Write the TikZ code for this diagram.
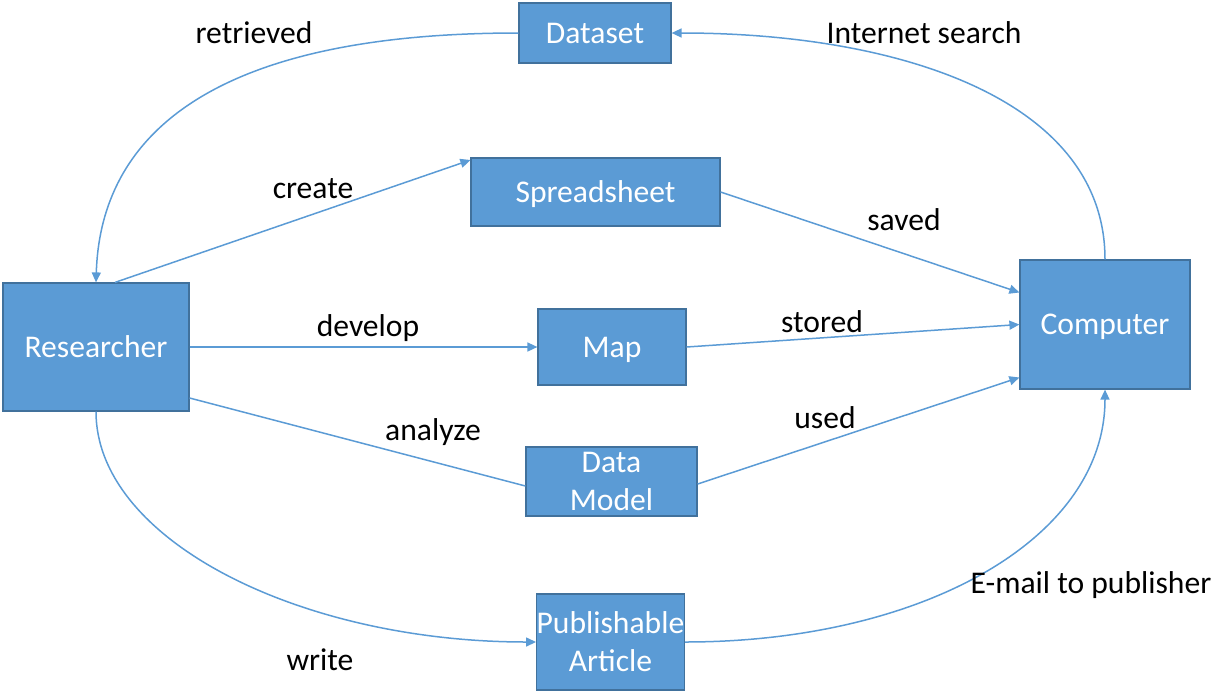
\documentclass[tikz,border=0pt]{standalone}
\usepackage{fontspec}
\setmainfont{Carlito}
\usetikzlibrary{arrows.meta}
\definecolor{boxblue}{HTML}{5B9BD5}
\definecolor{boxedge}{HTML}{41719C}
\definecolor{linkblue}{HTML}{5B9BD5}
\begin{document}
\begin{tikzpicture}[x=0.5pt,y=-0.5pt,
  every node/.style={font=\fontsize{15.8}{19}\selectfont},
  entity/.style={draw=boxedge,line width=0.6pt,fill=boxblue,text=white,
    align=center,inner sep=0pt},
  nodepth/.style={text depth=0pt},
  link/.style={draw=linkblue,line width=0.75pt},
  arrowed/.style={link,-{Triangle[length=5pt,width=4.5pt]}},
  lbl/.style={text=black,inner sep=0pt,text height=1.55ex,text depth=0.35ex}]
\useasboundingbox (0,0) rectangle (1216,692);

% boxes
\node[entity,minimum width=76pt,minimum height=30pt] (dataset) at (595,33) {Dataset};
\node[entity,nodepth,minimum width=124.5pt,minimum height=34pt] (sheet) at (595.5,192) {Spreadsheet};
\node[entity,minimum width=93pt,minimum height=64pt] (res) at (96,347) {Researcher};
\node[entity,nodepth,minimum width=74pt,minimum height=38pt] (map) at (612,347) {Map};
\node[entity,nodepth,minimum width=85pt,minimum height=64.5pt] (comp) at (1105,324.5) {Computer};
\node[entity,minimum width=85.5pt,minimum height=34.5pt] (model) at (611.5,481.5) {Data\\Model};
\node[entity,minimum width=72.5pt,minimum height=48pt] (article) at (610.5,642) {Publishable\\Article};

% anchor points on the box borders
\coordinate (resTopB) at ([xshift=9.5pt]res.north);
\coordinate (compIn1) at ([yshift=16pt]comp.west);
\coordinate (compIn3) at ([yshift=-26.5pt]comp.west);
\coordinate (resRight2) at ([yshift=-25.5pt]res.east);
\coordinate (modelIn) at ([yshift=-2.25pt]model.west);
\coordinate (modelOut) at ([yshift=-1.25pt]model.east);
\coordinate (sheetIn) at ([yshift=16pt]sheet.west);

% curved connectors
\draw[arrowed] (dataset.west) .. controls (190,33) and (100,150) .. (res.north);
\draw[arrowed] (comp.north) .. controls (1105,100) and (900,33) .. (dataset.east);
\draw[arrowed] (res.south) .. controls (96,540) and (300,642) .. (article.west);
\draw[arrowed] (article.east) .. controls (920,642) and (1105,540) .. (comp.south);

% straight connectors
\draw[arrowed] (resTopB) -- (sheetIn);
\draw[arrowed] (sheet.east) -- (compIn1);
\draw[arrowed] (res.east) -- (map.west);
\draw[arrowed] (map.east) -- (comp.west);
\draw[link] (resRight2) -- (modelIn);
\draw[arrowed] (modelOut) -- (compIn3);

% labels
\node[lbl] (l1) at (254,38) {retrieved};
\node[lbl] (l2) at (924,38) {Internet search};
\node[lbl] (l3) at (313,193) {create};
\node[lbl] (l4) at (904,225) {saved};
\node[lbl] (l5) at (368,331) {develop};
\node[lbl] (l6) at (822,327) {stored};
\node[lbl] (l7) at (433,435) {analyze};
\node[lbl] (l8) at (825,423) {used};
\node[lbl] (l9) at (320,665) {write};
\node[lbl] (l10) at (1091,588) {E-mail to publisher};
\end{tikzpicture}
\end{document}
